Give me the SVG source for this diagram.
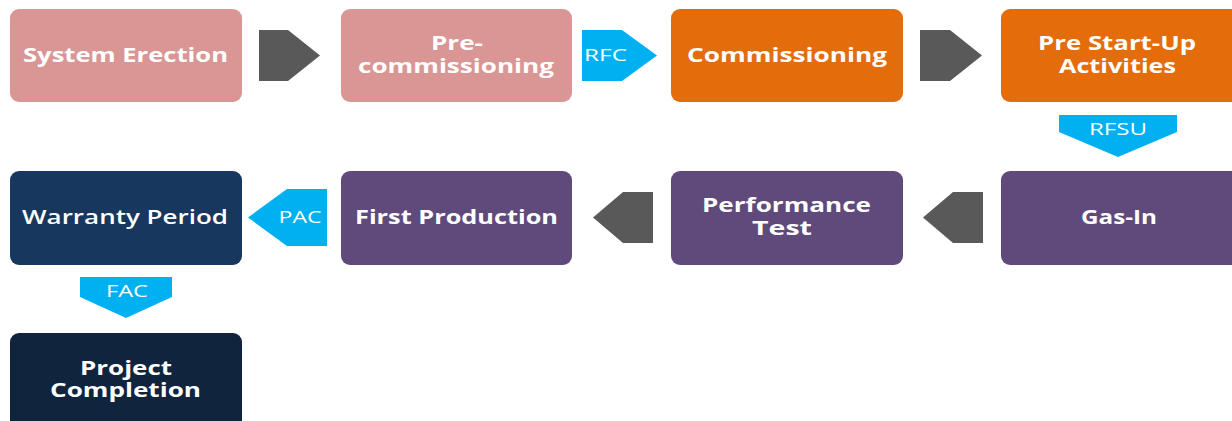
<svg xmlns="http://www.w3.org/2000/svg" width="1232" height="421" viewBox="0 0 1232 421">
<style>
.pink{fill:#D99694}
.orange{fill:#E46C0A}
.purple{fill:#604A7B}
.navy{fill:#17375E}
.dark{fill:#10243E}
.gray{fill:#595959}
.blue{fill:#00B0F0}
.t{font-family:"Open Sans","Liberation Sans",sans-serif;font-weight:bold;font-size:19px;fill:#fff;text-anchor:middle;dominant-baseline:central}
.w{font-weight:600}
.l{font-family:"Open Sans","Liberation Sans",sans-serif;font-size:16px;fill:#fff;text-anchor:middle;dominant-baseline:central}
</style>
<rect width="1232" height="421" fill="#fff"/>
<g id="connectors">
<polygon class="gray" points="259,30 288,30 320,55.5 288,81 259,81"/>
<g id="rfc"><polygon class="blue" points="582,30 622,30 657,55.5 622,81 582,81"/><text class="l" x="605.5" y="55" textLength="43" lengthAdjust="spacingAndGlyphs">RFC</text></g>
<polygon class="gray" points="920,30 950,30 982,55.5 950,81 920,81"/>
<g id="rfsu"><polygon class="blue" points="1059,115 1177,115 1177,132 1118,157 1059,132"/><text class="l" x="1118" y="129" textLength="58" lengthAdjust="spacingAndGlyphs">RFSU</text></g>
<polygon class="gray" points="983,192 953,192 923,217.5 953,243 983,243"/>
<polygon class="gray" points="653,192 623,192 593,217.5 623,243 653,243"/>
<g id="pac"><polygon class="blue" points="327,189 287,189 248,217.5 287,246 327,246"/><text class="l" x="300" y="217" textLength="43" lengthAdjust="spacingAndGlyphs">PAC</text></g>
<g id="fac"><polygon class="blue" points="80,277 172,277 172,297 126,318 80,297"/><text class="l" x="127" y="291" textLength="42" lengthAdjust="spacingAndGlyphs">FAC</text></g>
</g>
<g id="system-erection"><rect class="pink" x="10" y="9" width="232" height="93" rx="9"/><text class="t" x="125.5" y="55" textLength="205" lengthAdjust="spacingAndGlyphs">System Erection</text></g>
<g id="pre-commissioning"><rect class="pink" x="341" y="9" width="231" height="93" rx="9"/><text class="t"><tspan x="457" y="43" textLength="52" lengthAdjust="spacingAndGlyphs">Pre-</tspan><tspan x="456" y="66" textLength="196" lengthAdjust="spacingAndGlyphs">commissioning</tspan></text></g>
<g id="commissioning"><rect class="orange" x="671" y="9" width="232" height="93" rx="9"/><text class="t" x="787" y="55" textLength="200" lengthAdjust="spacingAndGlyphs">Commissioning</text></g>
<g id="pre-start-up"><rect class="orange" x="1001" y="9" width="240" height="93" rx="9"/><text class="t"><tspan x="1117" y="43" textLength="158" lengthAdjust="spacingAndGlyphs">Pre Start-Up</tspan><tspan x="1117.5" y="66" textLength="117" lengthAdjust="spacingAndGlyphs">Activities</tspan></text></g>
<g id="gas-in"><rect class="purple" x="1001" y="171" width="240" height="94" rx="9"/><text class="t" x="1119" y="217" textLength="76" lengthAdjust="spacingAndGlyphs">Gas-In</text></g>
<g id="performance-test"><rect class="purple" x="671" y="171" width="232" height="94" rx="9"/><text class="t"><tspan x="786.5" y="205" textLength="169" lengthAdjust="spacingAndGlyphs">Performance</tspan><tspan x="782" y="228" textLength="60" lengthAdjust="spacingAndGlyphs">Test</tspan></text></g>
<g id="first-production"><rect class="purple" x="341" y="171" width="231" height="94" rx="9"/><text class="t" x="456.5" y="217" textLength="203" lengthAdjust="spacingAndGlyphs">First Production</text></g>
<g id="warranty-period"><rect class="navy" x="10" y="171" width="232" height="94" rx="9"/><text class="t w" x="125" y="217" textLength="206" lengthAdjust="spacingAndGlyphs">Warranty Period</text></g>
<g id="project-completion"><rect class="dark" x="10" y="333" width="232" height="100" rx="9"/><text class="t"><tspan x="126" y="368" textLength="92" lengthAdjust="spacingAndGlyphs">Project</tspan><tspan x="125.5" y="390" textLength="151" lengthAdjust="spacingAndGlyphs">Completion</tspan></text></g>
</svg>
